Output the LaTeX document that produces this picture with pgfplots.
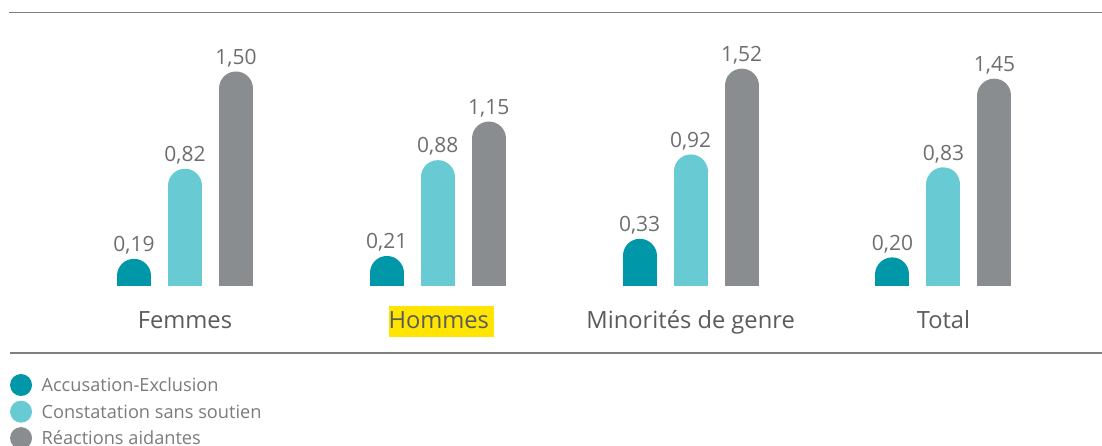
\documentclass[border=0pt]{standalone}
\usepackage{fontspec}
\setmainfont{Open Sans}
\usepackage{pgfplots}
\usepackage{pgfplotstable}
\pgfplotsset{compat=1.18}
\definecolor{cA}{HTML}{0098A9}
\definecolor{cB}{HTML}{68CAD3}
\definecolor{cC}{HTML}{8A8D8F}
\definecolor{txt}{HTML}{6D6E71}
\definecolor{cat}{HTML}{5A5B5D}
\definecolor{legtxt}{HTML}{7A7B7D}
\definecolor{hl}{HTML}{FFE500}
\definecolor{rule}{HTML}{7F7F7F}

\pgfplotstableread{
x v lab
0 0.19 0,19
1 0.21 0,21
2 0.33 0,33
3 0.20 0,20
}\tA
\pgfplotstableread{
x v lab
0 0.82 0,82
1 0.88 0,88
2 0.92 0,92
3 0.83 0,83
}\tB
\pgfplotstableread{
x v lab
0 1.50 1,50
1 1.15 1,15
2 1.52 1,52
3 1.45 1,45
}\tC

\pgfplotsset{
  pill/.style={ycomb, no markers, line width=34pt, line cap=round, forget plot},
  dotlegend/.style={legend image code/.code={%
    \path[draw=none, fill=none, use as bounding box] (0pt,-6pt) rectangle (21pt,15pt);
    \fill[#1, draw=none, line width=0pt] (10.5pt,0.5pt) circle (11pt);}},
}

\begin{document}
\begin{tikzpicture}[x=1pt,y=1pt]
\useasboundingbox (0,0) rectangle (1102,446);
\draw[rule, line width=1.4pt] (9,433.5) -- (1102,433.5);
\draw[rule, line width=1.4pt] (10,93) -- (1102,93);
\begin{axis}[
  at={(10pt,160pt)}, anchor=south west,
  scale only axis, width=1092pt, height=273.5pt,
  xmin=-0.692, xmax=3.627,
  ymin=0, ymax=1.9126,
  axis line style={draw=none},
  major tick length=0pt,
  ytick=\empty,
  xtick={0,1,2,3},
  xticklabels={Femmes,{\hspace*{7pt}\setlength{\fboxsep}{0pt}\colorbox{hl}{\rule[-8.5pt]{0pt}{31pt}Hommes\hspace{5pt}}},Minorités de genre,Total},
  xticklabel style={anchor=base, yshift=-42.5pt, font=\fontsize{23.7}{27}\selectfont, text=cat},
  clip=true,
  point meta=explicit symbolic,
  nodes near coords,
  nodes near coords style={font=\fontsize{21}{24}\selectfont, text=txt, anchor=south, inner sep=0pt, outer sep=0pt, yshift=21.5pt},
  legend style={at={(0.0005,-0.309)}, anchor=north west, draw=none, fill=none, inner sep=0pt, outer sep=0pt,
    font=\fontsize{18.2}{21}\selectfont, text=legtxt, row sep=4pt,
    nodes={inner sep=0pt, outer sep=0pt},
    /tikz/every odd column/.append style={column sep=10pt}},
  legend cell align=left,
]
\addplot[pill, color=cA] table[x expr=\thisrow{x}-0.2017, y expr=\thisrow{v}-0.1189, meta=lab] {\tA};
\addplot[pill, color=cB] table[x expr=\thisrow{x}, y expr=\thisrow{v}-0.1189, meta=lab] {\tB};
\addplot[pill, color=cC] table[x expr=\thisrow{x}+0.2017, y expr=\thisrow{v}-0.1189, meta=lab] {\tC};
\addlegendimage{dotlegend=cA}
\addlegendentry{Accusation-Exclusion}
\addlegendimage{dotlegend=cB}
\addlegendentry{Constatation sans soutien}
\addlegendimage{dotlegend=cC}
\addlegendentry{Réactions aidantes}
\end{axis}
\end{tikzpicture}
\end{document}
